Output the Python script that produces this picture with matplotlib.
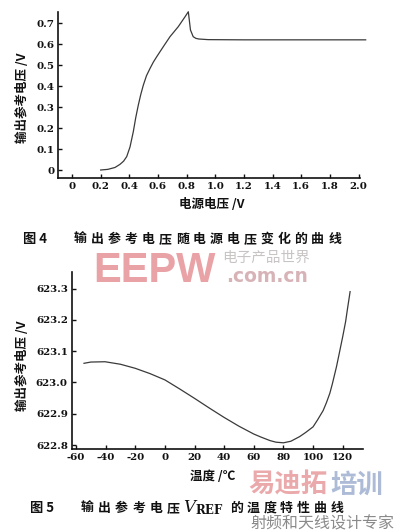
import matplotlib
matplotlib.use("Agg")
import matplotlib.pyplot as plt
from matplotlib.font_manager import FontProperties

# ---------------- data ----------------
supply_v = [0.20, 0.25, 0.30, 0.335, 0.36, 0.382, 0.405, 0.428, 0.445, 0.463,
            0.48, 0.498, 0.52, 0.545, 0.568, 0.591, 0.637, 0.684, 0.742, 0.789,
            0.812, 0.827, 0.846, 0.865, 0.885, 0.95, 1.2, 1.6, 2.05]
vout = [0.0, 0.003, 0.012, 0.027, 0.042, 0.064, 0.11, 0.183, 0.25, 0.31,
        0.36, 0.405, 0.45, 0.485, 0.515, 0.54, 0.588, 0.636, 0.684, 0.731,
        0.755, 0.668, 0.636, 0.628, 0.625, 0.622, 0.621, 0.621, 0.621]

temp_c = [-54.6, -50, -40.4, -30, -20, -10, 0, 10, 20, 30, 40, 50, 60, 65,
          71, 75, 80, 85, 91, 95, 100, 103, 106.8, 109, 111.3, 113, 115.8,
          118, 120, 122, 123.1, 125]
vref = [623.061, 623.065, 623.066, 623.058, 623.045, 623.028, 623.008,
        622.979, 622.949, 622.918, 622.888, 622.860, 622.835, 622.825,
        622.814, 622.809, 622.807, 622.812, 622.827, 622.840, 622.858,
        622.880, 622.910, 622.935, 622.965, 622.995, 623.050, 623.100,
        623.146, 623.195, 623.231, 623.290]

top_xticks = [0, 0.2, 0.4, 0.6, 0.8, 1.0, 1.2, 1.4, 1.6, 1.8, 2.0]
top_xticklabels = ["0", "0.2", "0.4", "0.6", "0.8", "1.0", "1.2", "1.4", "1.6", "1.8", "2.0"]
top_yticks = [0, 0.1, 0.2, 0.3, 0.4, 0.5, 0.6, 0.7]
top_yticklabels = ["0", "0.1", "0.2", "0.3", "0.4", "0.5", "0.6", "0.7"]
bot_xticks = [-60, -40, -20, 0, 20, 40, 60, 80, 100, 120]
bot_xticklabels = ["-60", "-40", "-20", "0", "20", "40", "60", "80", "100", "120"]
bot_yticks = [622.8, 622.9, 623.0, 623.1, 623.2, 623.3]
bot_yticklabels = ["622.8", "622.9", "623.0", "623.1", "623.2", "623.3"]

top_xlabel = "电源电压 /V"
top_ylabel = "输出参考电压 /V"
bot_xlabel = "温度 /℃"
bot_ylabel = "输出参考电压 /V"
cap4_num = "图 4"
cap4_text = "输出参考电压随电源电压变化的曲线"
cap5_num = "图 5"
cap5_text_a = "输出参考电压"
cap5_text_b = "的温度特性曲线"

# ---------------- figure ----------------
W, H = 405, 531
fig = plt.figure(figsize=(W / 100, H / 100), dpi=100)
fig.patch.set_facecolor("white")

CJK = ["Noto Sans CJK SC", "DejaVu Sans"]
TICKFONT = dict(family="DejaVu Serif", weight="bold", size=7.4)


def fx(px):
    return px / W


def fy(py):
    return 1 - py / H


def style_axes(ax):
    for s in ["top", "right"]:
        ax.spines[s].set_visible(False)
    for s in ["left", "bottom"]:
        ax.spines[s].set_linewidth(1.2)
        ax.spines[s].set_color("#111111")
    ax.tick_params(direction="in", length=3, width=1.0, colors="#111111", pad=3)
    for lab in ax.get_xticklabels() + ax.get_yticklabels():
        lab.set_fontproperties(FontProperties(**TICKFONT))


# top axes
ax1 = fig.add_axes([fx(58.3), fy(178.3), fx(360 - 58.3), (178.3 - 11.7) / H])
ax1.plot(supply_v, vout, color="#3a3a3a", lw=0.9, clip_on=False)
px_per_x = 143.25
px_per_y = 209.6
ax1.set_xlim(0 - (72 - 58.3) / px_per_x, 2.0 + (360 - 358.5) / px_per_x)
ax1.set_ylim(0 - (178.3 - 170) / px_per_y, 0 + (170 - 11.7) / px_per_y)
ax1.set_xticks(top_xticks)
ax1.set_xticklabels(top_xticklabels)
ax1.set_yticks(top_yticks)
ax1.set_yticklabels(top_yticklabels)
style_axes(ax1)

# bottom axes
ax2 = fig.add_axes([fx(72), fy(449), fx(363 - 72), (449 - 272) / H])
ax2.plot(temp_c, vref, color="#3a3a3a", lw=0.9, clip_on=False)
bx = 1.4815
by = 313.0
ax2.set_xlim(-60 - (76 - 72) / bx, 120 + (363 - 342.7) / bx)
ax2.set_ylim(622.8 - (449 - 445) / by, 622.8 + (445 - 272) / by)
ax2.set_xticks(bot_xticks)
ax2.set_xticklabels(bot_xticklabels)
ax2.set_yticks(bot_yticks)
ax2.set_yticklabels(bot_yticklabels)
style_axes(ax2)

# axis labels
lab_kw = dict(family=CJK, weight="bold", size=9, color="#111111",
              ha="center", va="center")
fig.text(fx(212), fy(205), top_xlabel, **lab_kw)
fig.text(fx(22), fy(98), top_ylabel, rotation=90, **lab_kw)
fig.text(fx(213), fy(477), bot_xlabel, **lab_kw)
fig.text(fx(22), fy(366), bot_ylabel, rotation=90, **lab_kw)


def spaced(text, x0, x1, y, size):
    n = len(text)
    pitch = (x1 - x0) / n
    for i, ch in enumerate(text):
        fig.text(fx(x0 + pitch * (i + 0.5)), fy(y), ch, family=CJK,
                 weight="bold", size=size, color="#111111",
                 ha="center", va="center", zorder=3)


# captions
fig.text(fx(23), fy(239), cap4_num, family=CJK, weight="bold", size=9.5,
         color="#111111", ha="left", va="center")
spaced(cap4_text, 72, 343, 239, 9.3)

fig.text(fx(30), fy(508), cap5_num, family=CJK, weight="bold", size=9.5,
         color="#111111", ha="left", va="center")
spaced(cap5_text_a, 78, 182, 508, 9.3)
fig.text(fx(183), fy(508), r"$\mathbf{\mathit{V}}_{\mathbf{REF}}$",
         size=12, color="#111111", ha="left", va="center",
         family="DejaVu Serif", math_fontfamily="dejavuserif")
spaced(cap5_text_b, 228, 345, 508, 9.3)

# watermarks
fig.text(fx(93), fy(282.5), "EEPW", family="Liberation Sans", weight="bold",
         size=30, color="#e9a3a6", ha="left", va="baseline", zorder=1)
fig.text(fx(222), fy(258), "电子产品世界", family=CJK, size=10.5, style="italic",
         color="#c8c4c4", ha="left", va="center", zorder=1)
fig.text(fx(226), fy(277), ".com.cn", family="DejaVu Sans", weight="bold",
         size=13.5, color="#d7b3b7", ha="left", va="center", zorder=1)
fig.text(fx(248), fy(485), "易迪拓", family=CJK, weight="bold", size=19,
         color="#e79a9d", alpha=0.85, ha="left", va="center", zorder=4)
fig.text(fx(330), fy(485), "培训", family=CJK, weight="bold", size=19,
         color="#9fb0d0", alpha=0.85, ha="left", va="center", zorder=4)
fig.text(fx(250), fy(523.5), "射频和天线设计专家", family=CJK, size=11.5,
         color="#8a8a8a", ha="left", va="center", zorder=4)

fig.savefig("out.png", dpi=100, facecolor="white")
